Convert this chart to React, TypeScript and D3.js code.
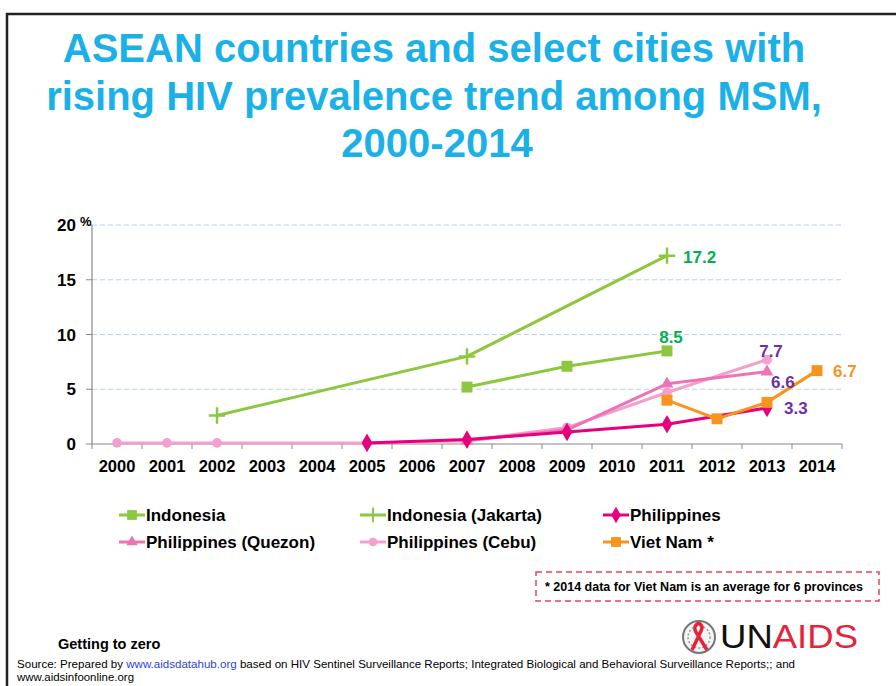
import React from "react";
import * as d3 from "d3";

const years = ["2000", "2001", "2002", "2003", "2004", "2005", "2006", "2007", "2008", "2009", "2010", "2011", "2012", "2013", "2014"];
const yTicks = [0, 5, 10, 15, 20];

const indonesia = [
  { year: "2007", value: 5.2 },
  { year: "2009", value: 7.1 },
  { year: "2011", value: 8.5 },
];
const jakarta = [
  { year: "2002", value: 2.6 },
  { year: "2007", value: 8.0 },
  { year: "2011", value: 17.2 },
];
const philippines = [
  { year: "2005", value: 0.1 },
  { year: "2007", value: 0.4 },
  { year: "2009", value: 1.1 },
  { year: "2011", value: 1.8 },
  { year: "2013", value: 3.3 },
];
const quezon = [
  { year: "2007", value: 0.3 },
  { year: "2009", value: 1.3 },
  { year: "2011", value: 5.5 },
  { year: "2013", value: 6.6 },
];
const cebu = [
  { year: "2000", value: 0.1 },
  { year: "2001", value: 0.1 },
  { year: "2002", value: 0.1 },
  { year: "2005", value: 0.1 },
  { year: "2007", value: 0.3 },
  { year: "2009", value: 1.5 },
  { year: "2011", value: 4.7 },
  { year: "2013", value: 7.7 },
];
const vietnam = [
  { year: "2011", value: 4.0 },
  { year: "2012", value: 2.3 },
  { year: "2013", value: 3.8 },
  { year: "2014", value: 6.7 },
];

// value labels next to the last points
const endLabels = [
  { year: "2011", value: 17.2, color: "#00B050", dx: 16, dy: 7, anchor: "start" },
  { year: "2011", value: 8.5, color: "#00B050", dx: 4, dy: -8, anchor: "middle" },
  { year: "2013", value: 7.7, color: "#7030A0", dx: 4, dy: -3, anchor: "middle" },
  { year: "2013", value: 6.6, color: "#7030A0", dx: 4, dy: 16, anchor: "start" },
  { year: "2013", value: 3.3, color: "#7030A0", dx: 17, dy: 6, anchor: "start" },
  { year: "2014", value: 6.7, color: "#F7941D", dx: 16, dy: 6, anchor: "start" },
];

const series = [
  { name: "Philippines (Cebu)", data: cebu, color: "#F4A0CC", symbol: d3.symbolCircle, size: 75, stroke: false },
  { name: "Philippines (Quezon)", data: quezon, color: "#EE72B4", symbol: d3.symbolTriangle, size: 70, stroke: false },
  { name: "Philippines", data: philippines, color: "#E6007E", symbol: d3.symbolDiamond, size: 100, stroke: false },
  { name: "Indonesia", data: indonesia, color: "#8DC63F", symbol: d3.symbolSquare, size: 120, stroke: false },
  { name: "Indonesia (Jakarta)", data: jakarta, color: "#8DC63F", symbol: d3.symbolPlus, size: 90, stroke: true },
  { name: "Viet Nam *", data: vietnam, color: "#F7941D", symbol: d3.symbolSquare, size: 120, stroke: false },
];

const legendOrder = ["Indonesia", "Indonesia (Jakarta)", "Philippines", "Philippines (Quezon)", "Philippines (Cebu)", "Viet Nam *"];

const FONT = "Arial, 'Liberation Sans', sans-serif";

export default function App() {
  const x = d3.scaleBand().domain(years).range([92, 842]);
  const y = d3.scaleLinear().domain([0, 20]).range([444, 225]);
  const cx = (yr: string) => (x(yr) as number) + x.bandwidth() / 2;

  const line = d3
    .line<{ year: string; value: number }>()
    .x((d) => cx(d.year))
    .y((d) => y(d.value));

  const legendCols = [119, 360, 603];
  const legendRows = [515, 542];

  return (
    <svg
      width={896}
      height={686}
      style={{ position: "absolute", left: 0, top: 0, background: "#fff" }}
      fontFamily={FONT}
    >
      {/* slide frame */}
      <path d="M7,686 V14 H896" fill="none" stroke="#222" strokeWidth={2.5} />

      {/* title */}
      <g fill="#1BB1E7" fontWeight="bold" fontSize={40} textAnchor="middle">
        <text x={434} y={62}>ASEAN countries and select cities with</text>
        <text x={434} y={110}>rising HIV prevalence trend among MSM,</text>
        <text x={437} y={157}>2000-2014</text>
      </g>

      {/* grid */}
      {yTicks.slice(1).map((t) => (
        <line key={t} x1={92} x2={842} y1={y(t)} y2={y(t)} stroke="#B9CFF2" strokeDasharray="5,3" strokeWidth={1} />
      ))}

      {/* axes */}
      <line x1={92} x2={92} y1={y(20)} y2={y(0)} stroke="#888" strokeWidth={1.2} />
      <line x1={92} x2={842} y1={y(0)} y2={y(0)} stroke="#888" strokeWidth={1.2} />
      {yTicks.map((t) => (
        <g key={t}>
          <line x1={86} x2={92} y1={y(t)} y2={y(t)} stroke="#888" />
          <text x={76} y={y(t) + 6} textAnchor="end" fontSize={17} fontWeight="bold">
            {t}
          </text>
        </g>
      ))}
      <text x={80} y={y(20) + 1} fontSize={13} fontWeight="bold">%</text>
      {years.map((yr) => (
        <g key={yr}>
          <line x1={x(yr)} x2={x(yr)} y1={y(0)} y2={y(0) + 5} stroke="#888" />
          <text x={cx(yr)} y={472} textAnchor="middle" fontSize={16.5} fontWeight="bold">
            {yr}
          </text>
        </g>
      ))}
      <line x1={842} x2={842} y1={y(0)} y2={y(0) + 5} stroke="#888" />

      {/* series */}
      {series.map((s) => (
        <g key={s.name}>
          <path d={line(s.data) || ""} fill="none" stroke={s.color} strokeWidth={3} strokeLinejoin="round" />
          {s.data.map((d, i) => (
            <path
              key={i}
              transform={`translate(${cx(d.year)},${y(d.value)})`}
              d={d3.symbol(s.symbol, s.size)() || ""}
              fill={s.stroke ? "none" : s.color}
              stroke={s.stroke ? s.color : "none"}
              strokeWidth={2.5}
            />
          ))}
        </g>
      ))}

      {/* value labels */}
      {endLabels.map((l, i) => (
        <text
          key={i}
          x={cx(l.year) + l.dx}
          y={y(l.value) + l.dy}
          textAnchor={l.anchor}
          fill={l.color}
          fontSize={17}
          fontWeight="bold"
        >
          {l.value}
        </text>
      ))}

      {/* legend */}
      {legendOrder.map((name, i) => {
        const s = series.find((d) => d.name === name)!;
        const lx = legendCols[i % 3];
        const ly = legendRows[Math.floor(i / 3)];
        return (
          <g key={name} transform={`translate(${lx},${ly})`}>
            <line x1={0} x2={26} y1={0} y2={0} stroke={s.color} strokeWidth={3} />
            <path
              transform="translate(13,0)"
              d={d3.symbol(s.symbol, s.size * 0.8)() || ""}
              fill={s.stroke ? "none" : s.color}
              stroke={s.stroke ? s.color : "none"}
              strokeWidth={2}
            />
            <text x={27} y={6} fontSize={17} fontWeight="bold">
              {name}
            </text>
          </g>
        );
      })}

      {/* footnote */}
      <rect x={536} y={572} width={343} height={29} fill="none" stroke="#E8415E" strokeWidth={1.5} strokeDasharray="6,4" />
      <text x={545} y={591} fontSize={12} fontWeight="bold" textLength={318} lengthAdjust="spacingAndGlyphs">
        * 2014 data for Viet Nam is an average for 6 provinces
      </text>

      {/* footer */}
      <text x={58} y={649} fontSize={14.5} fontWeight="bold">Getting to zero</text>
      <text x={17} y={668} fontSize={11} textLength={778} lengthAdjust="spacingAndGlyphs">
        Source: Prepared by <tspan fill="#2E3FE0">www.aidsdatahub.org</tspan> based on HIV Sentinel Surveillance Reports; Integrated Biological and Behavioral Surveillance Reports;; and
      </text>
      <text x={17} y={681} fontSize={11} textLength={117} lengthAdjust="spacingAndGlyphs">www.aidsinfoonline.org</text>

      {/* UNAIDS logo */}
      <g transform="translate(699,637)">
        <circle r={16} fill="#f4f4f4" stroke="#777" strokeWidth={2} />
        <circle r={11} fill="none" stroke="#999" strokeWidth={1.5} strokeDasharray="2,2" />
        <path d="M-7,13 L2,-6 C5,-12 0,-15 -3,-12 C-6,-9 -3,-4 0,0 L8,13" fill="none" stroke="#E5243B" strokeWidth={3.5} />
      </g>
      <text x={720} y={648} fontSize={34} textLength={138} lengthAdjust="spacingAndGlyphs">
        <tspan fill="#111">UN</tspan>
        <tspan fill="#E5243B">AIDS</tspan>
      </text>
    </svg>
  );
}
